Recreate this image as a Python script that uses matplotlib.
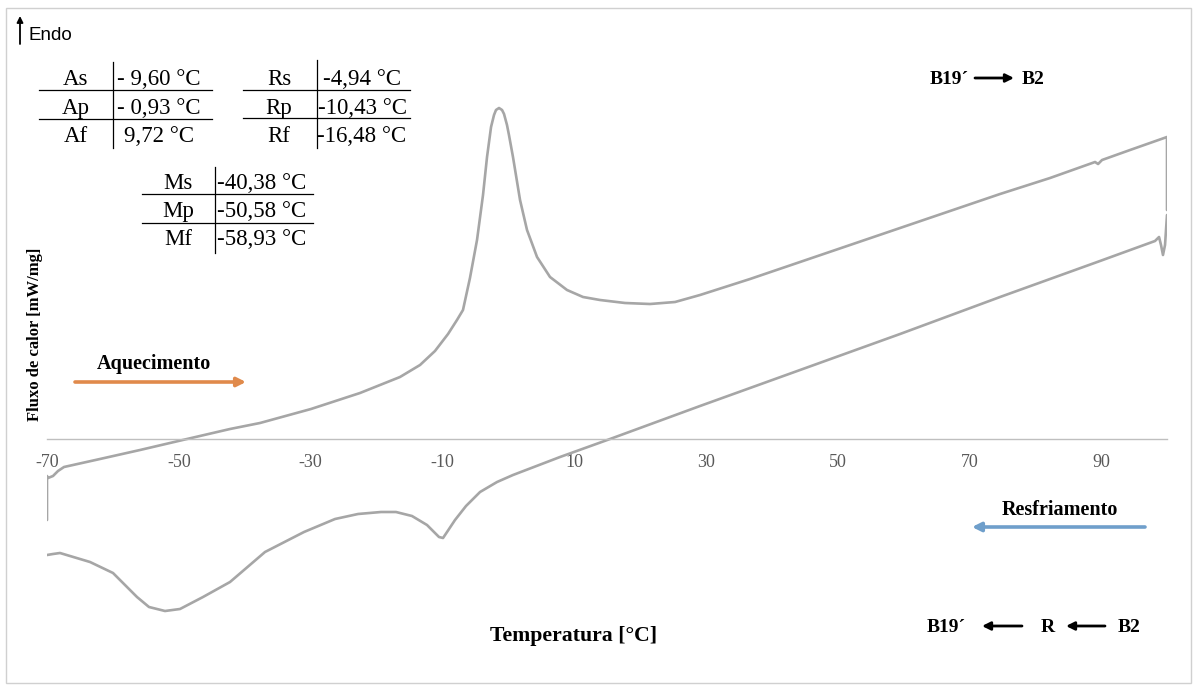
import matplotlib
matplotlib.use("Agg")
import matplotlib.pyplot as plt
from matplotlib.lines import Line2D
from matplotlib.patches import Rectangle

# ---------------- data ----------------
heating_T = [-70.0, -70.0, -69.85, -69.09, -68.33, -67.42, -61.96, -55.88, -48.75, -42.22,
             -37.67, -29.93, -22.49, -16.42, -13.38, -11.11, -9.13, -7.77, -6.86, -5.80,
             -4.73, -3.82, -3.21, -2.60, -2.15, -1.85, -1.39, -0.93, -0.63, -0.18,
             0.12, 0.73, 1.80, 2.86,
             4.38, 6.35, 8.93, 11.36, 13.94, 17.74, 21.53, 25.33, 29.12, 36.71,
             44.30, 51.89, 59.48, 67.07, 74.66, 82.25, 89.08, 89.54, 90.14, 94.39,
             100.0, 100.0]
heating_flow = [-0.81, -0.37, -0.39, -0.37, -0.32, -0.28, -0.20, -0.11, 0.00, 0.10,
                0.16, 0.30, 0.46, 0.62, 0.74, 0.88, 1.05, 1.19, 1.29, 1.61,
                1.99, 2.44, 2.82, 3.12, 3.24, 3.29, 3.31, 3.29, 3.25, 3.14,
                3.04, 2.82, 2.39, 2.09,
                1.82, 1.62, 1.49, 1.42, 1.39, 1.36, 1.35, 1.37, 1.44, 1.60,
                1.77, 1.94, 2.11, 2.28, 2.45, 2.61, 2.77, 2.75, 2.79, 2.89,
                3.02, 2.29]

cooling_T = [100.0, 99.70, 99.39, 99.09, 98.79, 98.18, 89.83, 74.66, 59.48, 44.30,
             29.12, 15.46, 7.87, 0.73, -1.69, -4.27, -6.40, -8.07, -9.28, -9.89,
             -10.50, -11.41, -12.32, -14.60, -17.03, -19.30, -22.79, -26.28, -30.99, -36.91,
             -42.22, -46.32, -49.81, -52.09, -54.52, -56.34, -59.98, -63.47, -68.03, -69.09,
             -70.0]
cooling_flow = [2.24, 1.94, 1.84, 1.94, 2.02, 1.98, 1.78, 1.42, 1.05, 0.69,
                0.33, 0.00, -0.18, -0.36, -0.43, -0.53, -0.67, -0.81, -0.93, -0.99,
                -0.98, -0.92, -0.86, -0.77, -0.73, -0.73, -0.75, -0.80, -0.93, -1.13,
                -1.43, -1.58, -1.70, -1.72, -1.68, -1.58, -1.34, -1.23, -1.14, -1.15,
                -1.16]

x_ticks = [-70, -50, -30, -10, 10, 30, 50, 70, 90]

A_labels = ["As", "Ap", "Af"]
A_values = ["- 9,60 °C", "- 0,93 °C", "9,72 °C"]
R_labels = ["Rs", "Rp", "Rf"]
R_values = ["-4,94 °C", "-10,43 °C", "-16,48 °C"]
M_labels = ["Ms", "Mp", "Mf"]
M_values = ["-40,38 °C", "-50,58 °C", "-58,93 °C"]

# ---------------- figure ----------------
W, H = 1195, 687
fig = plt.figure(figsize=(W / 100, H / 100), dpi=100)
SERIF = "Liberation Serif"
SANS = "Liberation Sans"


def fx(px):
    return px / W


def fy(py):
    return 1 - py / H


# outer border
fig.add_artist(Rectangle((fx(6), fy(683)), fx(1191) - fx(6), fy(8) - fy(683),
                         transform=fig.transFigure, fill=False,
                         edgecolor="#D0D0D0", linewidth=1.0))

ax = fig.add_axes([fx(47), fy(660), fx(1167) - fx(47), fy(60) - fy(660)])
ax.set_xlim(-70, 100)
ax.set_ylim(-2.21, 3.79)
ax.patch.set_alpha(0)

curve_color = "#A6A6A6"
ax.plot(heating_T, heating_flow, color=curve_color, lw=1.9, solid_joinstyle="round",
        solid_capstyle="round")
ax.plot(cooling_T, cooling_flow, color=curve_color, lw=1.9, solid_joinstyle="round",
        solid_capstyle="round")

for s in ["left", "right", "top"]:
    ax.spines[s].set_visible(False)
ax.spines["bottom"].set_position(("data", 0))
ax.spines["bottom"].set_color("#BFBFBF")
ax.spines["bottom"].set_linewidth(1.0)
ax.set_yticks([])
ax.set_xticks(x_ticks)
ax.set_xticklabels([str(t) for t in x_ticks], fontfamily=SERIF, fontsize=13,
                   color="#595959")
ax.tick_params(axis="x", length=0, pad=11)

# axis titles
fig.text(fx(574), fy(641), "Temperatura [°C]", fontfamily=SERIF, fontsize=15.7,
         fontweight="bold", ha="center", va="baseline")
fig.text(fx(35), fy(334), "Fluxo de calor [mW/mg]", fontfamily=SERIF, fontsize=12,
         fontweight="bold", ha="center", va="center", rotation=90)

# Endo
fig.text(fx(29), fy(40), "Endo", fontfamily=SANS, fontsize=13.5, ha="left", va="baseline")
fig.add_artist(plt.Annotation("", xy=(fx(20), fy(16)), xytext=(fx(20), fy(44)),
                              xycoords="figure fraction", textcoords="figure fraction",
                              arrowprops=dict(arrowstyle="-|>", color="black", lw=1.3,
                                              mutation_scale=9, shrinkA=0, shrinkB=0)))


def fig_line(x0, y0, x1, y1, lw=1.0):
    fig.add_artist(Line2D([fx(x0), fx(x1)], [fy(y0), fy(y1)], transform=fig.transFigure,
                          color="black", lw=lw))


def table(labels, values, lab_x, val_x, baselines, sep_x, sep_y, hl_ys, hl_x):
    for lab, val, b in zip(labels, values, baselines):
        fig.text(fx(lab_x), fy(b), lab, fontfamily=SERIF, fontsize=16.5, ha="center",
                 va="baseline")
        fig.text(fx(val_x), fy(b), val, fontfamily=SERIF, fontsize=16.5, ha="center",
                 va="baseline")
    fig_line(sep_x, sep_y[0], sep_x, sep_y[1], lw=0.9)
    for hy in hl_ys:
        fig_line(hl_x[0], hy, hl_x[1], hy, lw=0.9)


table(A_labels, A_values, 76, 159, [85, 114, 142], 113, (62, 148), [90, 119], (39, 212))
table(R_labels, R_values, 279, 362, [85, 114, 142], 317, (60, 148), [90, 118], (243, 410))
table(M_labels, M_values, 178, 262, [189, 217, 245], 215, (167, 253), [194, 223], (142, 313))


def arrow(x0, y0, x1, y1, color="black", lw=2.0, ms=12):
    fig.add_artist(plt.Annotation("", xy=(fx(x1), fy(y1)), xytext=(fx(x0), fy(y0)),
                                  xycoords="figure fraction", textcoords="figure fraction",
                                  arrowprops=dict(arrowstyle="-|>", color=color, lw=lw,
                                                  mutation_scale=ms, shrinkA=0, shrinkB=0)))


def bold(px, py, s, ha="left", size=14):
    fig.text(fx(px), fy(py), s, fontfamily=SERIF, fontsize=size, fontweight="bold",
             ha=ha, va="baseline")


# B19´ -> B2 (heating)
bold(930, 84, "B19´")
arrow(975, 78, 1014, 78)
bold(1022, 84, "B2")

# cooling sequence
bold(927, 632, "B19´")
arrow(1022, 626, 982, 626)
bold(1048, 632, "R", ha="center")
arrow(1105, 626, 1066, 626)
bold(1118, 632, "B2")

# heating / cooling direction arrows
bold(154, 369, "Aquecimento", ha="center", size=14.5)
arrow(75, 382, 246, 382, color="#E08A4B", lw=2.6, ms=13)
bold(1060, 515, "Resfriamento", ha="center", size=14.5)
arrow(1145, 527, 972, 527, color="#6F9FCB", lw=2.6, ms=13)

fig.savefig("out.png", dpi=100)
